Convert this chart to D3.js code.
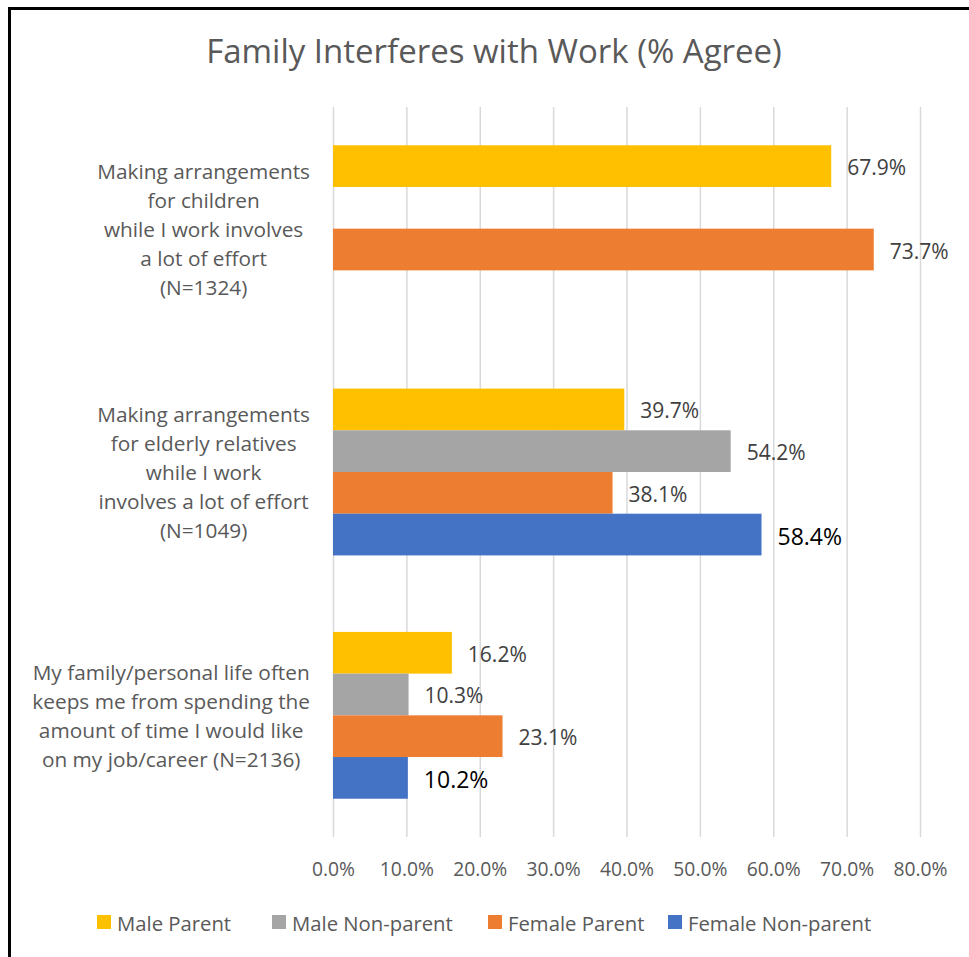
<!DOCTYPE html>
<html>
<head>
<meta charset="utf-8">
<script src="https://cdn.jsdelivr.net/npm/d3@7"></script>
<style>
  html, body { margin: 0; padding: 0; background: #fff; }
  svg { display: block; font-family: "Open Sans", "Noto Sans", sans-serif; }
</style>
</head>
<body>
<svg id="chart" width="969" height="957"></svg>
<script>
// Survey items (one label line per array entry)
const categories = [
  ["Making arrangements", "for children", "while I work involves", "a lot of effort", "(N=1324)"],
  ["Making arrangements", "for elderly relatives", "while I work", "involves a lot of effort", "(N=1049)"],
  ["My family/personal life often", "keeps me from spending the", "amount of time I would like", "on my job/career (N=2136)"]
];
const seriesNames = ["Male Parent", "Male Non-parent", "Female Parent", "Female Non-parent"];
const seriesColors = ["#FFC000", "#A5A5A5", "#ED7D31", "#4472C4"];

// % agree per series, in category order (null = not asked)
const maleParent      = [67.9, 39.7, 16.2];
const maleNonParent   = [null, 54.2, 10.3];
const femaleParent    = [73.7, 38.1, 23.1];
const femaleNonParent = [null, 58.4, 10.2];
const seriesValues = [maleParent, maleNonParent, femaleParent, femaleNonParent];

const xTicks = [0, 10, 20, 30, 40, 50, 60, 70, 80];
const titleText = "Family Interferes with Work (% Agree)";

const svg = d3.select("#chart");
const plot = { left: 333, right: 920, top: 107, bottom: 837 };

// Outer frame
svg.append("rect")
  .attr("x", 9.5).attr("y", 8.5)
  .attr("width", 1000).attr("height", 1000)
  .attr("fill", "none").attr("stroke", "#000").attr("stroke-width", 3);

const x = d3.scaleLinear().domain([0, 80]).range([plot.left, plot.right]);
const y0 = d3.scaleBand()
  .domain(d3.range(categories.length))
  .range([plot.top, plot.bottom])
  .paddingInner(0.3144).paddingOuter(0.1572);
const y1 = d3.scaleBand()
  .domain(d3.range(seriesNames.length))
  .range([0, y0.bandwidth()]);

// Vertical gridlines
const grid = svg.append("g")
  .attr("transform", `translate(0,${plot.bottom})`)
  .call(d3.axisBottom(x).tickValues(xTicks).tickSize(-(plot.bottom - plot.top)).tickFormat(""));
grid.select(".domain").remove();
grid.selectAll(".tick line").attr("stroke", "#d9d9d9").attr("stroke-width", 1.5);

// X axis labels
const xAxis = svg.append("g")
  .attr("transform", `translate(0,${plot.bottom})`)
  .call(d3.axisBottom(x).tickValues(xTicks).tickSize(0).tickPadding(0)
    .tickFormat(d => d.toFixed(1) + "%"));
xAxis.select(".domain").remove();
xAxis.selectAll(".tick text")
  .attr("y", 39).attr("dy", null)
  .attr("fill", "#595959")
  .style("font-size", "19.3px")
  .style("font-family", "'Open Sans', sans-serif");

// Bars
const rows = [];
seriesValues.forEach((vals, s) => {
  vals.forEach((v, c) => { if (v != null) rows.push({ s, c, v }); });
});

svg.append("g").selectAll("rect")
  .data(rows)
  .join("rect")
  .attr("x", x(0))
  .attr("y", d => y0(d.c) + y1(d.s))
  .attr("width", d => x(d.v) - x(0))
  .attr("height", y1.bandwidth())
  .attr("fill", d => seriesColors[d.s]);

// Value labels (female non-parent labels are larger and black)
svg.append("g").selectAll("text")
  .data(rows)
  .join("text")
  .attr("x", d => x(d.v) + 16)
  .attr("y", d => y0(d.c) + y1(d.s) + y1.bandwidth() / 2 + 1)
  .attr("dominant-baseline", "central")
  .attr("fill", d => d.s === 3 ? "#000" : "#404040")
  .style("font-size", d => d.s === 3 ? "23px" : "21px")
  .text(d => d.v.toFixed(1) + "%");

// Category labels: lines centred within a block right-aligned to the axis
const labelRight = 310;
const lineH = 29;
categories.forEach((lines, c) => {
  const g = svg.append("g");
  const cy = y0(c) + y0.bandwidth() / 2;
  const texts = g.selectAll("text")
    .data(lines)
    .join("text")
    .attr("y", (d, i) => cy + (i - (lines.length - 1) / 2) * lineH)
    .attr("dominant-baseline", "central")
    .attr("text-anchor", "middle")
    .attr("fill", "#595959")
    .style("font-size", "20.8px")
    .text(d => d);
  let maxW = 0;
  texts.each(function () { maxW = Math.max(maxW, this.getComputedTextLength()); });
  texts.attr("x", labelRight - maxW / 2);
});

// Title
svg.append("text")
  .attr("x", 494).attr("y", 63)
  .attr("text-anchor", "middle")
  .attr("fill", "#595959")
  .style("font-size", "33px")
  .text(titleText);

// Legend
const legendX = [97, 272, 488, 668];
const legend = svg.append("g").selectAll("g")
  .data(seriesNames)
  .join("g")
  .attr("transform", (d, i) => `translate(${legendX[i]},915)`);
legend.append("rect")
  .attr("width", 14).attr("height", 14)
  .attr("fill", (d, i) => seriesColors[i]);
legend.append("text")
  .attr("x", 20).attr("y", 7.5)
  .attr("dominant-baseline", "central")
  .attr("fill", "#595959")
  .style("font-size", "20.3px")
  .text(d => d);
</script>
</body>
</html>
